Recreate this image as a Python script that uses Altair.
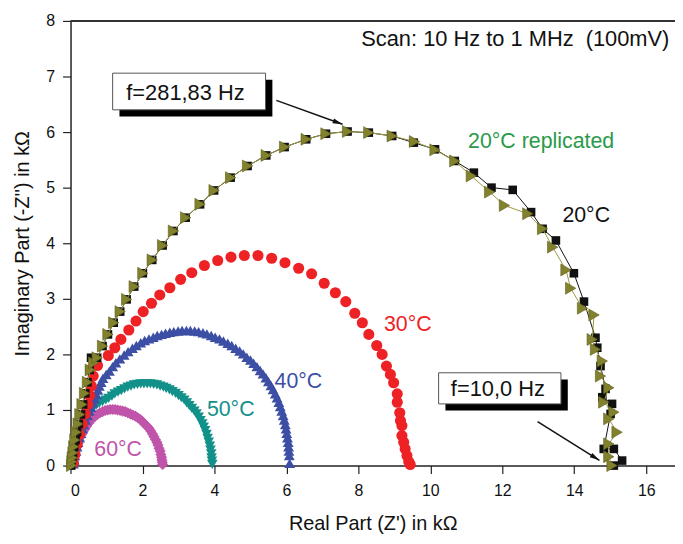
import math
import altair as alt
import pandas as pd

# ---------------- data (kOhm) ----------------
# 20°C (black squares, connected)
x20 = [0.02, 0.03, 0.05, 0.07, 0.10, 0.14, 0.18, 0.23, 0.29, 0.35, 0.41, 0.47, 0.53, 0.57,
       0.74, 0.89, 1.04, 1.20, 1.38, 1.56, 1.77, 2.01, 2.27, 2.56, 2.86, 3.20, 3.60, 3.99,
       4.45, 4.92, 5.44, 5.95, 6.55, 7.10, 7.70, 8.29, 8.94, 9.54, 10.13, 10.68, 11.21,
       11.70, 12.29, 12.80, 13.12, 13.49, 13.99, 14.27, 14.59, 14.64, 14.73, 14.87, 14.78,
       15.05, 15.01, 14.82, 15.10, 15.33, 15.10]
y20 = [0.00, 0.07, 0.14, 0.23, 0.34, 0.46, 0.60, 0.75, 0.92, 1.10, 1.30, 1.50, 1.72, 1.94,
       1.94, 2.15, 2.36, 2.57, 2.77, 2.99, 3.22, 3.46, 3.70, 3.96, 4.22, 4.46, 4.70, 4.95,
       5.18, 5.39, 5.58, 5.73, 5.87, 5.97, 6.01, 5.99, 5.93, 5.81, 5.69, 5.48, 5.27,
       5.00, 4.96, 4.56, 4.26, 4.05, 3.46, 2.95, 2.30, 2.12, 1.79, 1.38, 1.23,
       1.11, 0.93, 0.30, 0.30, 0.09, 0.00]

# 20°C replicated (olive right triangles, connected)
x20r = [0.03, 0.04, 0.05, 0.07, 0.09, 0.12, 0.16, 0.21, 0.26, 0.32, 0.39, 0.47, 0.55, 0.64,
        0.74, 0.89, 1.04, 1.20, 1.38, 1.56, 1.77, 2.01, 2.27, 2.56, 2.86, 3.20, 3.60, 3.99,
        4.45, 4.92, 5.44, 5.95, 6.55, 7.10, 7.70, 8.29, 8.94, 9.56, 10.13, 10.68, 11.14,
        11.65, 12.06, 12.71, 13.12, 13.40, 13.77, 13.90, 14.23, 14.55, 14.50, 14.59, 14.78,
        14.73, 14.96, 14.82, 15.10, 14.96, 15.19, 14.96, 14.96, 15.05]
y20r = [0.00, 0.07, 0.14, 0.23, 0.34, 0.46, 0.60, 0.75, 0.92, 1.10, 1.30, 1.50, 1.72, 1.85,
        1.94, 2.15, 2.36, 2.57, 2.77, 2.99, 3.22, 3.46, 3.70, 3.96, 4.22, 4.46, 4.70, 4.95,
        5.18, 5.39, 5.58, 5.73, 5.87, 5.97, 6.01, 5.99, 5.93, 5.83, 5.68, 5.48, 5.21,
        4.92, 4.68, 4.53, 4.26, 3.93, 3.52, 3.19, 2.83, 2.71, 2.27, 2.09, 1.88,
        1.61, 1.40, 1.14, 0.96, 0.84, 0.60, 0.39, 0.16, 0.00]

# 30°C (red circles)
x30 = [0.08, 0.12, 0.18, 0.25, 0.33, 0.41, 0.48, 0.53, 0.58, 0.63, 0.75, 1.05, 1.23, 1.40,
       1.62, 1.82, 2.02, 2.25, 2.48, 2.76, 3.06, 3.37, 3.72, 4.09, 4.46, 4.83, 5.21, 5.59,
       5.96, 6.34, 6.70, 7.05, 7.36, 7.65, 7.90, 8.11, 8.29, 8.51, 8.66, 8.78, 8.89, 8.98,
       9.08, 9.08, 9.15, 9.17, 9.21, 9.21, 9.26, 9.30, 9.35, 9.40, 9.44]
y30 = [0.05, 0.20, 0.38, 0.56, 0.75, 0.93, 1.10, 1.26, 1.43, 1.61, 1.80, 1.98, 2.12, 2.27,
       2.44, 2.60, 2.77, 2.92, 3.07, 3.20, 3.35, 3.47, 3.60, 3.69, 3.75, 3.78, 3.78, 3.73,
       3.65, 3.55, 3.45, 3.28, 3.11, 2.95, 2.74, 2.57, 2.36, 2.16, 2.00, 1.79, 1.64, 1.49,
       1.29, 1.14, 0.95, 0.81, 0.72, 0.54, 0.42, 0.30, 0.18, 0.07, 0.02]

# 40°C (blue up triangles)
x40 = [0.08, 0.10, 0.12, 0.15, 0.18, 0.21, 0.25, 0.29, 0.33, 0.37, 0.42, 0.47, 0.52, 0.57,
       0.62, 0.67, 0.72, 0.76, 0.80, 0.85, 0.90, 0.99, 1.08, 1.17, 1.26, 1.37, 1.49, 1.60,
       1.72, 1.83, 1.95, 2.06, 2.18, 2.30, 2.41, 2.53, 2.64, 2.76, 2.87, 2.99, 3.10, 3.22,
       3.33, 3.45, 3.56, 3.68, 3.79, 3.91, 4.02, 4.14, 4.25, 4.37, 4.48, 4.59, 4.70, 4.80,
       4.90, 5.00, 5.09, 5.18, 5.27, 5.35, 5.43, 5.50, 5.57, 5.63, 5.69, 5.74, 5.79, 5.83,
       5.87, 5.91, 5.94, 5.97, 5.99, 6.01, 6.03, 6.05, 6.06, 6.07, 6.08, 6.09]
y40 = [0.03, 0.10, 0.18, 0.26, 0.34, 0.42, 0.50, 0.58, 0.66, 0.74, 0.82, 0.90, 0.98, 1.05,
       1.13, 1.20, 1.28, 1.36, 1.43, 1.50, 1.57, 1.64, 1.70, 1.78, 1.85, 1.92, 1.99, 2.05,
       2.11, 2.16, 2.21, 2.25, 2.28, 2.31, 2.34, 2.36, 2.38, 2.40, 2.41, 2.42, 2.43, 2.43,
       2.43, 2.42, 2.41, 2.39, 2.37, 2.34, 2.31, 2.28, 2.24, 2.20, 2.16, 2.11, 2.06, 2.01,
       1.95, 1.90, 1.84, 1.78, 1.71, 1.65, 1.58, 1.51, 1.44, 1.37, 1.29, 1.22, 1.14, 1.06,
       0.98, 0.90, 0.82, 0.74, 0.66, 0.58, 0.50, 0.42, 0.34, 0.26, 0.18, 0.04]

# 50°C (teal down triangles)
x50 = [0.07, 0.08, 0.10, 0.12, 0.15, 0.18, 0.21, 0.24, 0.28, 0.32, 0.36, 0.40, 0.44, 0.50,
       0.55, 0.60, 0.65, 0.72, 0.80, 0.89, 0.98, 1.06, 1.15, 1.23, 1.32, 1.41, 1.50, 1.59,
       1.68, 1.77, 1.86, 1.95, 2.04, 2.13, 2.22, 2.31, 2.40, 2.49, 2.58, 2.66, 2.75, 2.83,
       2.92, 3.00, 3.08, 3.16, 3.23, 3.30, 3.37, 3.44, 3.50, 3.56, 3.61, 3.66, 3.70, 3.74,
       3.78, 3.81, 3.84, 3.87, 3.89, 3.91, 3.92, 3.93, 3.94]
y50 = [0.02, 0.09, 0.16, 0.23, 0.30, 0.37, 0.44, 0.51, 0.58, 0.65, 0.72, 0.79, 0.85, 0.91,
       0.97, 1.01, 1.05, 1.09, 1.12, 1.15, 1.18, 1.21, 1.25, 1.29, 1.32, 1.35, 1.38, 1.41,
       1.43, 1.45, 1.46, 1.47, 1.47, 1.47, 1.47, 1.46, 1.45, 1.43, 1.41, 1.39, 1.36, 1.33,
       1.30, 1.26, 1.22, 1.18, 1.13, 1.08, 1.03, 0.98, 0.93, 0.87, 0.81, 0.75, 0.69, 0.63,
       0.56, 0.49, 0.42, 0.35, 0.28, 0.21, 0.14, 0.08, 0.02]

# 60°C (magenta diamonds)
x60 = [0.06, 0.07, 0.09, 0.11, 0.13, 0.15, 0.18, 0.21, 0.24, 0.27, 0.31, 0.35, 0.40, 0.45,
       0.50, 0.56, 0.62, 0.68, 0.75, 0.82, 0.89, 0.96, 1.03, 1.10, 1.17, 1.24, 1.31, 1.38,
       1.45, 1.52, 1.59, 1.66, 1.73, 1.80, 1.87, 1.94, 2.00, 2.06, 2.12, 2.18, 2.23, 2.28,
       2.32, 2.36, 2.40, 2.43, 2.46, 2.49, 2.51, 2.53, 2.54, 2.55, 2.56]
y60 = [0.02, 0.07, 0.12, 0.18, 0.23, 0.29, 0.34, 0.40, 0.45, 0.51, 0.56, 0.61, 0.66, 0.71,
       0.76, 0.81, 0.85, 0.89, 0.92, 0.95, 0.97, 0.99, 1.00, 1.01, 1.01, 1.01, 1.00, 0.99,
       0.98, 0.97, 0.95, 0.93, 0.91, 0.89, 0.86, 0.83, 0.79, 0.75, 0.71, 0.67, 0.62, 0.57,
       0.52, 0.47, 0.42, 0.37, 0.31, 0.26, 0.20, 0.15, 0.10, 0.06, 0.02]

# series labels
lab_text = ["20°C replicated", "20°C", "30°C", "40°C", "50°C", "60°C"]
lab_x = [11.05, 13.67, 8.71, 5.67, 3.79, 0.66]
lab_y = [5.72, 4.38, 2.43, 1.40, 0.90, 0.17]
lab_color = ["#2a9a4a", "#111111", "#ee2225", "#3c4fa5", "#12918a", "#c054aa"]

# annotation boxes
box_text = ["f=281,83 Hz", "f=10,0 Hz"]
box_x1 = [1.17, 10.23]
box_x2 = [5.42, 13.63]
box_y1 = [6.40, 1.11]
box_y2 = [7.06, 1.67]
box_tx = [1.55, 10.57]
box_ty = [6.58, 1.26]
shadow_dx = 0.19
shadow_dy = 0.12

# arrows (start -> tip)
arr_x1 = [5.72, 12.98]
arr_y1 = [6.57, 0.79]
arr_x2 = [7.56, 14.70]
arr_y2 = [6.14, 0.095]

scan_text = "Scan: 10 Hz to 1 MHz \u00a0(100mV)"
scan_x, scan_y = 8.08, 7.55

# ---------------- chart ----------------
XMAX, YMAX = 16.8, 8
W, H = 609, 448
FONT = "Liberation Sans"
TXT = 22


def frame(xs, ys):
    return pd.DataFrame({"x": xs, "y": ys, "i": list(range(len(xs)))})


xsc = alt.Scale(domain=[0, XMAX], nice=False, zero=False)
ysc = alt.Scale(domain=[0, YMAX], nice=False, zero=False)

xaxis = alt.Axis(
    values=list(range(0, 17)),
    labelExpr="datum.value % 2 == 0 ? format(datum.value, 'd') : ''",
    tickSize={"condition": {"test": "datum.value % 2 != 0", "value": 5}, "value": 8},
    title="Real Part (Z') in kΩ",
    grid=False, labelPadding=9, titlePadding=15,
)
yaxis = alt.Axis(
    values=[v / 2 for v in range(0, 17)],
    labelExpr="datum.value % 1 == 0 ? format(datum.value, 'd') : ''",
    tickSize={"condition": {"test": "datum.value % 1 != 0", "value": 5}, "value": 8},
    title="Imaginary Part (-Z'') in kΩ",
    grid=False, labelPadding=8, titlePadding=13,
)

X = alt.X("x:Q", scale=xsc, axis=xaxis)
Y = alt.Y("y:Q", scale=ysc, axis=yaxis)
Xn = alt.X("x:Q", scale=xsc)
Yn = alt.Y("y:Q", scale=ysc)


def pts(xs, ys, shape, color, size, stroke=None):
    kw = dict(shape=shape, filled=True, fill=color, size=size, opacity=1)
    if stroke:
        kw.update(stroke=stroke, strokeWidth=0.6)
    else:
        kw.update(strokeWidth=0)
    return alt.Chart(frame(xs, ys)).mark_point(**kw).encode(x=Xn, y=Yn)


base = alt.Chart(frame(x60, y60)).mark_point(
    shape="diamond", filled=True, fill="#c054aa", size=125, opacity=1, strokeWidth=0
).encode(x=X, y=Y)

l50 = pts(x50, y50, "triangle-down", "#12918a", 115)
l40 = pts(x40, y40, "triangle-up", "#3c4fa5", 120)
l30 = pts(x30, y30, "circle", "#ee2225", 125)

line20 = alt.Chart(frame(x20, y20)).mark_line(color="#111111", strokeWidth=1).encode(
    x=Xn, y=Yn, order="i:Q")
sq20 = pts(x20, y20, "square", "#111111", 75)
line20r = alt.Chart(frame(x20r, y20r)).mark_line(color="#9a9a40", strokeWidth=1).encode(
    x=Xn, y=Yn, order="i:Q")
tr20r = pts(x20r, y20r, "triangle-right", "#82822e", 145, stroke="#5e5e1c")

top_rule = alt.Chart(frame([0], [0])).mark_rule(color="#333333", strokeWidth=2).encode(
    x=alt.value(0), x2=alt.value(W), y=alt.value(0))

labels_df = pd.DataFrame({"t": lab_text, "x": lab_x, "y": lab_y, "c": lab_color})
labels = alt.Chart(labels_df).mark_text(
    font=FONT, fontSize=TXT - 0.5, align="left", baseline="alphabetic"
).encode(x=Xn, y=Yn, text="t:N", color=alt.Color("c:N", scale=None))

scan = alt.Chart(pd.DataFrame({"t": [scan_text], "x": [scan_x], "y": [scan_y]})).mark_text(
    font=FONT, fontSize=TXT, align="left", baseline="alphabetic", color="#111111"
).encode(x=Xn, y=Yn, text="t:N")

box_df = pd.DataFrame({
    "t": box_text, "x": box_x1, "x2": box_x2, "y": box_y1, "y2": box_y2,
    "tx": box_tx, "ty": box_ty,
    "sx": [v + shadow_dx for v in box_x1], "sx2": [v + shadow_dx for v in box_x2],
    "sy": [v - shadow_dy for v in box_y1], "sy2": [v - shadow_dy for v in box_y2],
})
shadow = alt.Chart(box_df).mark_rect(color="#000000").encode(
    x=alt.X("sx:Q", scale=xsc), x2="sx2:Q", y=alt.Y("sy:Q", scale=ysc), y2="sy2:Q")
boxes = alt.Chart(box_df).mark_rect(fill="#ffffff", stroke="#555555", strokeWidth=1).encode(
    x=alt.X("x:Q", scale=xsc), x2="x2:Q", y=alt.Y("y:Q", scale=ysc), y2="y2:Q")
box_txt = alt.Chart(box_df).mark_text(
    font=FONT, fontSize=TXT, align="left", baseline="alphabetic", color="#111111"
).encode(x=alt.X("tx:Q", scale=xsc), y=alt.Y("ty:Q", scale=ysc), text="t:N")

px_x = W / XMAX
px_y = H / YMAX
angles = []
for a, b, c, d in zip(arr_x1, arr_y1, arr_x2, arr_y2):
    dx = (c - a) * px_x
    dy = (b - d) * px_y
    angles.append(90 + math.degrees(math.atan2(dy, dx)))
arr_df = pd.DataFrame({"x": arr_x1, "y": arr_y1, "x2": arr_x2, "y2": arr_y2, "ang": angles})
arr_lines = alt.Chart(arr_df).mark_rule(color="#111111", strokeWidth=1.5).encode(
    x=alt.X("x:Q", scale=xsc), x2="x2:Q", y=alt.Y("y:Q", scale=ysc), y2="y2:Q")
arr_heads = alt.Chart(arr_df).mark_point(
    shape="M0,0 L0.5,2 L-0.5,2 Z", filled=True, fill="#111111", size=100, strokeWidth=0, opacity=1
).encode(x=alt.X("x2:Q", scale=xsc), y=alt.Y("y2:Q", scale=ysc), angle=alt.Angle("ang:Q", scale=None))

chart = alt.layer(
    base, l50, l40, l30, line20, sq20, line20r, tr20r,
    top_rule, shadow, boxes, box_txt, arr_lines, arr_heads, labels, scan,
).properties(
    width=W, height=H,
    autosize=alt.AutoSizeParams(type="none"),
    padding={"left": 63, "top": 11, "right": 0, "bottom": 76},
).configure_view(stroke=None).configure_axis(
    domainColor="#222222", domainWidth=1.5, tickColor="#222222", tickWidth=1.2,
    labelFont=FONT, labelFontSize=16, labelColor="#111111",
    titleFont=FONT, titleFontSize=20, titleFontWeight="normal", titleColor="#111111",
)

chart.save("out.html", embed_options={"renderer": "svg", "actions": False})
